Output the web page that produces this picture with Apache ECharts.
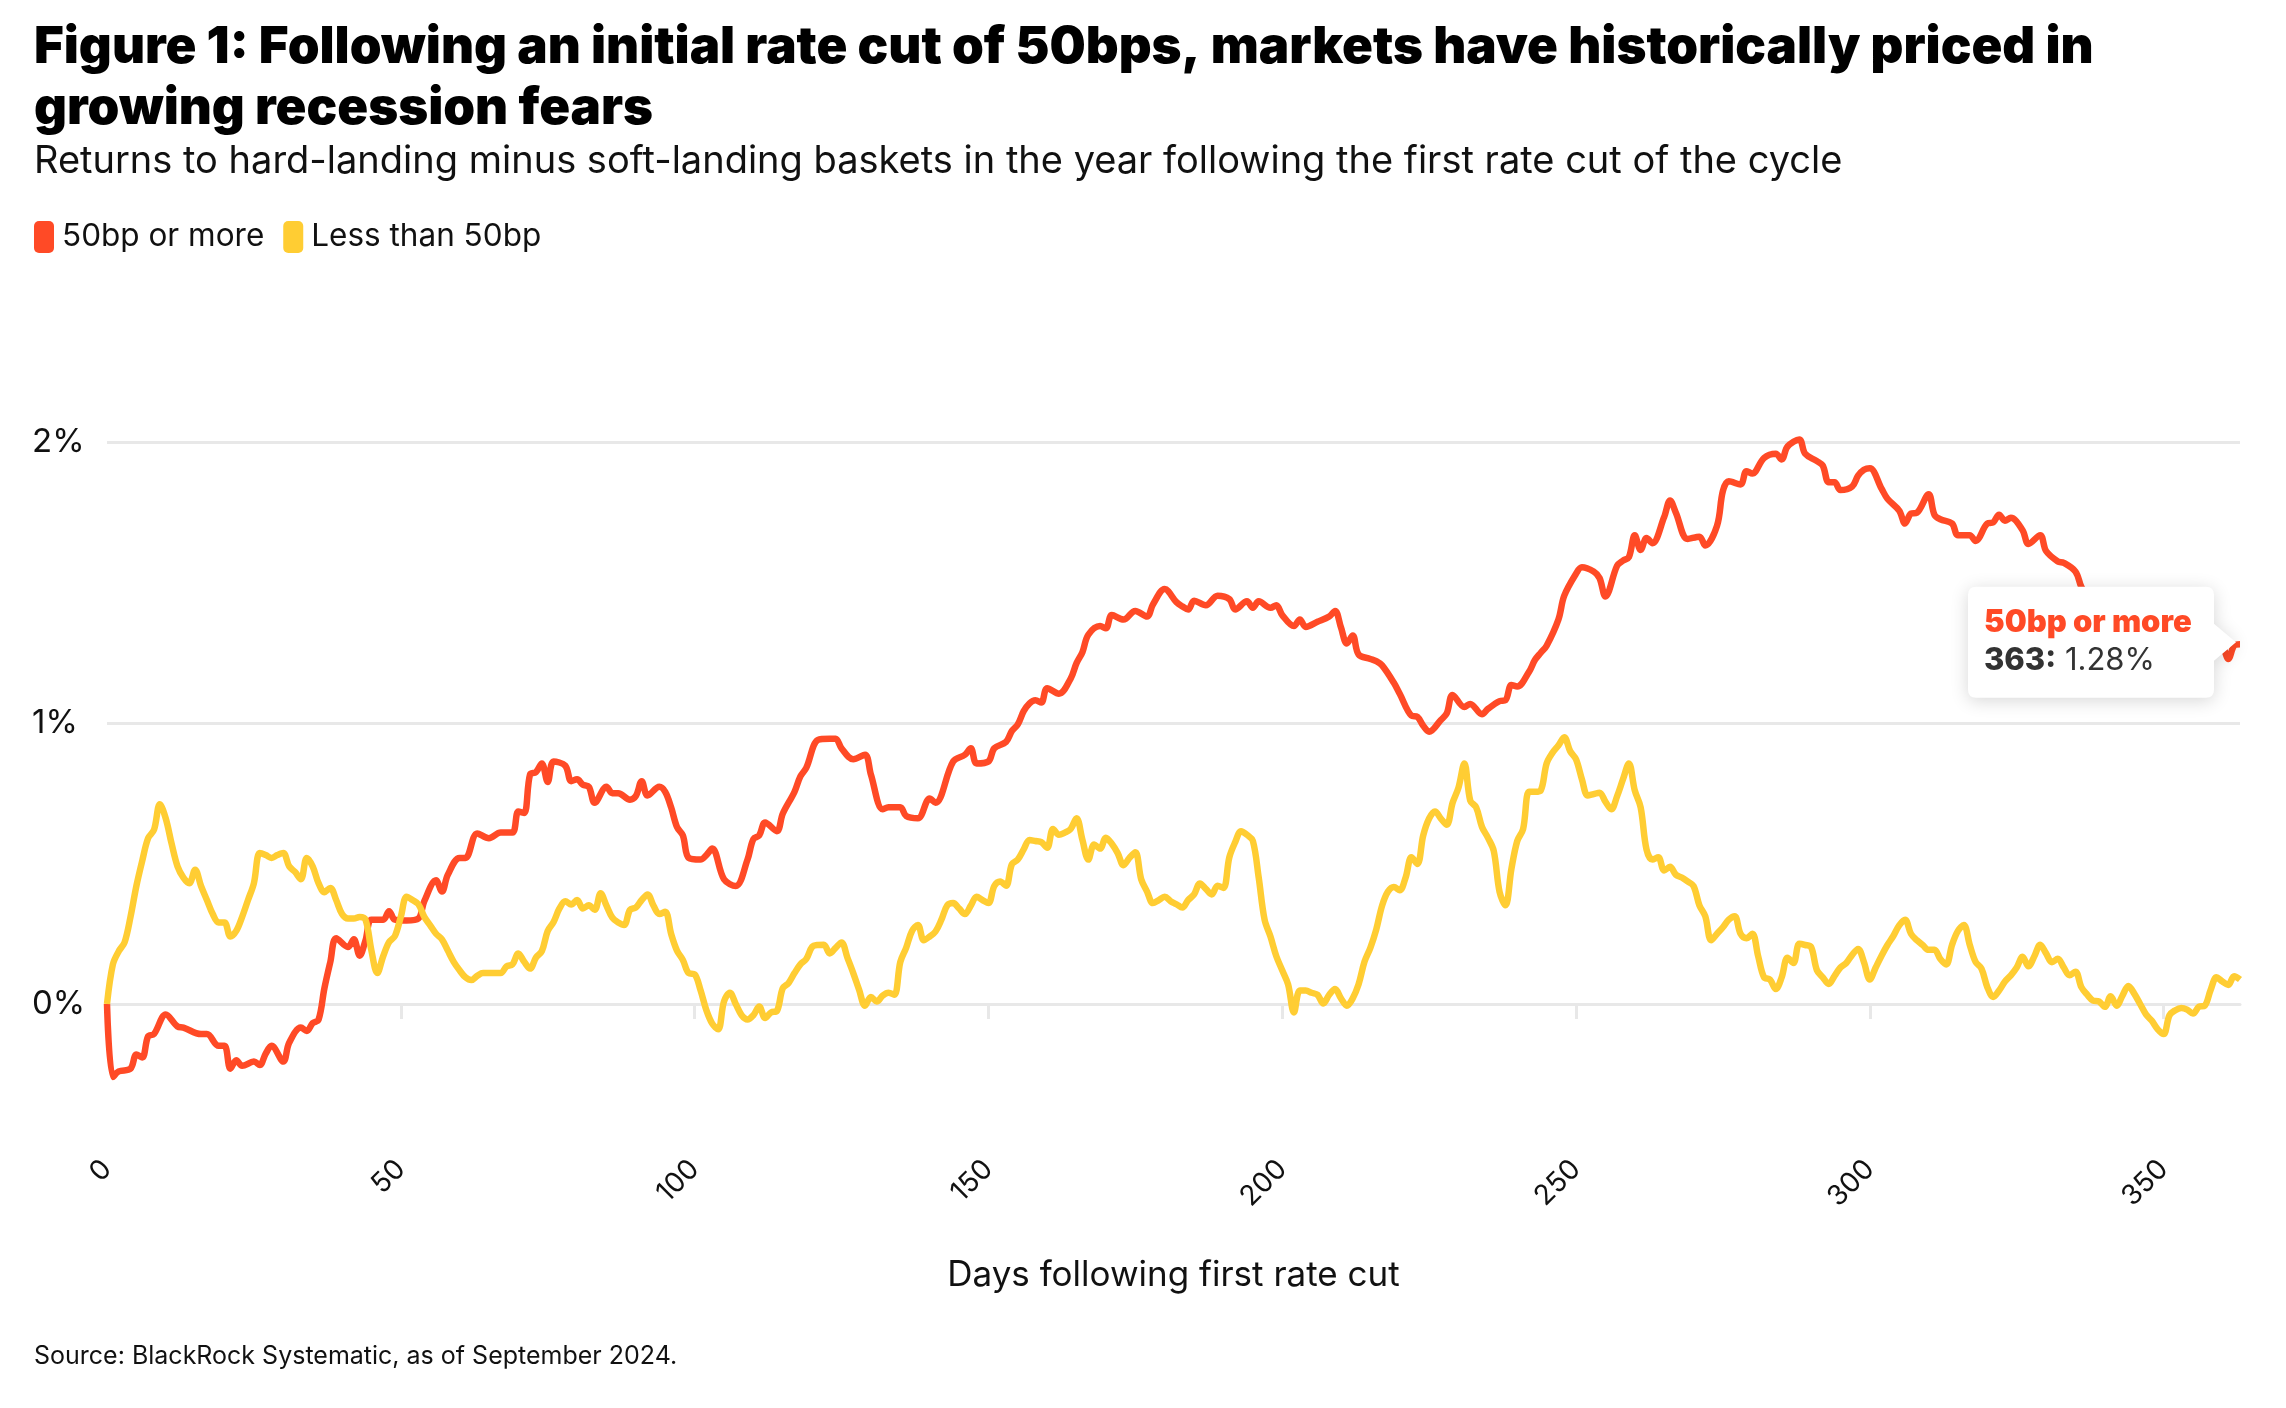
<!DOCTYPE html>
<html>
<head>
<meta charset="utf-8">
<script src="https://cdn.jsdelivr.net/npm/echarts@6/dist/echarts.min.js"></script>
<style>
html,body{margin:0;padding:0;background:#fff;}
#chart{width:2286px;height:1408px;}
</style>
</head>
<body>
<div id="chart"></div>
<script>
// ---- Data ----
const titleText = 'Figure 1: Following an initial rate cut of 50bps, markets have historically priced in\ngrowing recession fears';
const subtitleText = 'Returns to hard-landing minus soft-landing baskets in the year following the first rate cut of the cycle';
const sourceText = 'Source: BlackRock Systematic, as of September 2024.';
const xAxisName = 'Days following first rate cut';
const seriesNames = ['50bp or more', 'Less than 50bp'];
const xTicks = [0, 50, 100, 150, 200, 250, 300, 350];
const yTicks = [0, 1, 2];

// [day, % return] 50bp or more
const cut50OrMore = [
[0,0],[1,-0.26],[2,-0.24],[4,-0.23],[5,-0.18],[6,-0.19],[7,-0.115],[8,-0.107],[10,-0.037],[12,-0.08],[13,-0.084],
[16,-0.107],[17,-0.107],[19,-0.149],[20,-0.149],[21,-0.23],[22,-0.2],[23,-0.22],[25,-0.205],[26,-0.217],[27,-0.177],
[28,-0.149],[30,-0.205],[31,-0.138],[33,-0.084],[34,-0.096],[35,-0.068],[36,-0.056],[37,0.056],[38,0.149],[39,0.234],
[41,0.203],[42,0.23],[43,0.172],[44,0.227],[45,0.3],[47,0.3],[48,0.33],[49,0.3],[51,0.297],[53,0.304],[54,0.366],
[56,0.44],[57,0.4],[58,0.46],[60,0.52],[61,0.52],[63,0.607],[65,0.59],[67,0.61],[69,0.61],[70,0.685],[71,0.68],
[72,0.817],[73,0.825],[74,0.856],[75,0.79],[76,0.863],[78,0.848],[79,0.793],[80,0.8],[81,0.78],[82,0.773],[83,0.716],
[85,0.773],[86,0.75],[87,0.75],[89,0.727],[90,0.74],[91,0.793],[92,0.742],[94,0.773],[95,0.755],[96,0.7],[97,0.63],
[98,0.6],[99,0.52],[101,0.514],[102,0.53],[103,0.553],[105,0.444],[107,0.42],[109,0.514],[110,0.587],[111,0.6],
[112,0.646],[114,0.615],[115,0.677],[117,0.755],[118,0.81],[119,0.84],[121,0.94],[123,0.944],[124,0.944],[125,0.91],
[127,0.871],[129,0.887],[130,0.817],[132,0.693],[133,0.7],[135,0.7],[136,0.669],[138,0.661],[140,0.731],[141,0.716],
[144,0.863],[146,0.887],[147,0.91],[148,0.856],[150,0.863],[151,0.91],[153,0.933],[154,0.972],[155,0.995],[156,1.042],
[157,1.07],[158,1.081],[159,1.073],[160,1.124],[162,1.104],[164,1.158],[165,1.213],[166,1.252],[167,1.314],[169,1.345],
[170,1.337],[171,1.384],[173,1.368],[175,1.399],[177,1.379],[178,1.422],[180,1.477],[182,1.43],[183,1.415],[184,1.404],
[185,1.435],[187,1.419],[189,1.453],[191,1.441],[192,1.404],[194,1.433],[195,1.41],[196,1.433],[198,1.41],[199,1.419],
[200,1.384],[202,1.345],[203,1.368],[204,1.342],[206,1.36],[208,1.379],[209,1.399],[210,1.34],[211,1.283],[212,1.311],
[213,1.244],[215,1.228],[216,1.22],[217,1.205],[219,1.143],[220,1.104],[222,1.026],[223,1.022],[224,0.99],[225,0.969],
[227,1.011],[228,1.034],[229,1.1],[231,1.057],[232,1.068],[234,1.031],[235,1.05],[237,1.078],[238,1.081],[239,1.135],
[240,1.13],[242,1.182],[243,1.224],[244,1.25],[245,1.275],[247,1.368],[248,1.453],[250,1.531],[251,1.554],[253,1.539],
[254,1.516],[255,1.45],[257,1.56],[258,1.578],[259,1.59],[260,1.668],[261,1.616],[262,1.658],[263,1.64],[265,1.733],
[266,1.792],[267,1.748],[269,1.655],[271,1.663],[272,1.632],[274,1.702],[275,1.826],[276,1.86],[278,1.849],[279,1.896],
[280,1.888],[282,1.943],[284,1.958],[285,1.938],[286,1.984],[288,2.009],[289,1.958],[291,1.932],[292,1.916],[293,1.857],
[294,1.857],[295,1.829],[297,1.842],[298,1.88],[299,1.901],[300,1.907],[302,1.834],[303,1.798],[305,1.756],[306,1.71],
[307,1.745],[308,1.748],[310,1.814],[311,1.741],[312,1.725],[314,1.71],[315,1.668],[317,1.668],[318,1.648],[320,1.71],
[321,1.714],[322,1.741],[323,1.72],[324,1.73],[326,1.686],[327,1.637],[329,1.668],[330,1.612],[332,1.575],[333,1.57],
[335,1.539],[336,1.484],[337,1.45],[338,1.42],[340,1.4],[342,1.38],[344,1.35],[346,1.36],[348,1.33],[350,1.31],
[352,1.3],[354,1.28],[356,1.27],[358,1.25],[359,1.26],[360,1.267],[361,1.228],[362,1.275],[363,1.28]
];

// [day, % return] Less than 50bp
const cutLessThan50 = [
[0,0],[1,0.141],[2,0.188],[3,0.22],[4,0.31],[5,0.42],[6,0.51],[7,0.59],[8,0.62],[9,0.711],[10,0.66],[11,0.57],[12,0.49],
[13,0.45],[14,0.43],[15,0.478],[16,0.42],[17,0.37],[18,0.32],[19,0.29],[20,0.29],[21,0.24],[22,0.26],[23,0.31],[24,0.37],
[25,0.43],[26,0.537],[27,0.53],[28,0.52],[29,0.53],[30,0.537],[31,0.49],[32,0.47],[33,0.444],[34,0.52],[35,0.49],[36,0.43],
[37,0.398],[38,0.413],[39,0.37],[40,0.32],[41,0.304],[42,0.304],[43,0.31],[44,0.3],[45,0.19],[46,0.11],[47,0.17],[48,0.22],
[49,0.242],[50,0.31],[51,0.382],[52,0.37],[53,0.355],[54,0.31],[55,0.28],[56,0.25],[57,0.23],[58,0.19],[59,0.15],[60,0.12],
[61,0.095],[62,0.085],[63,0.1],[64,0.11],[65,0.11],[66,0.11],[67,0.11],[68,0.134],[69,0.141],[70,0.18],[71,0.15],[72,0.126],
[73,0.165],[74,0.188],[75,0.26],[76,0.292],[77,0.34],[78,0.366],[79,0.354],[80,0.37],[81,0.34],[82,0.351],[83,0.335],
[84,0.394],[85,0.35],[86,0.307],[87,0.29],[88,0.281],[89,0.335],[90,0.343],[91,0.37],[92,0.39],[93,0.35],[94,0.32],
[95,0.328],[96,0.25],[97,0.19],[98,0.157],[99,0.11],[100,0.106],[101,0.05],[102,-0.022],[103,-0.07],[104,-0.09],[105,0.009],
[106,0.04],[107,0],[108,-0.04],[109,-0.055],[110,-0.04],[111,-0.009],[112,-0.05],[113,-0.03],[114,-0.025],[115,0.056],
[116,0.075],[117,0.11],[118,0.141],[119,0.16],[120,0.203],[121,0.21],[122,0.211],[123,0.18],[124,0.2],[125,0.219],[126,0.165],
[127,0.11],[128,0.05],[129,-0.006],[130,0.025],[131,0.009],[132,0.03],[133,0.04],[134,0.033],[135,0.149],[136,0.2],[137,0.26],
[138,0.281],[139,0.227],[140,0.24],[141,0.258],[142,0.3],[143,0.351],[144,0.359],[145,0.34],[146,0.32],[147,0.35],[148,0.382],
[149,0.37],[150,0.359],[151,0.42],[152,0.436],[153,0.421],[154,0.498],[155,0.514],[156,0.55],[157,0.584],[158,0.58],[159,0.576],
[160,0.556],[161,0.623],[162,0.602],[163,0.61],[164,0.623],[165,0.661],[166,0.584],[167,0.514],[168,0.568],[169,0.553],
[170,0.592],[171,0.57],[172,0.537],[173,0.494],[174,0.52],[175,0.54],[176,0.444],[177,0.4],[178,0.359],[179,0.37],[180,0.382],
[181,0.366],[182,0.355],[183,0.343],[184,0.37],[185,0.39],[186,0.429],[187,0.41],[188,0.39],[189,0.421],[190,0.413],
[191,0.522],[192,0.576],[193,0.615],[194,0.602],[195,0.581],[196,0.45],[197,0.3],[198,0.24],[199,0.17],[200,0.12],[201,0.07],
[202,-0.03],[203,0.048],[204,0.048],[205,0.04],[206,0.033],[207,0.002],[208,0.033],[209,0.053],[210,0.02],[211,-0.006],
[212,0.02],[213,0.07],[214,0.15],[215,0.2],[216,0.265],[217,0.35],[218,0.4],[219,0.416],[220,0.405],[221,0.45],[222,0.522],
[223,0.498],[224,0.6],[225,0.66],[226,0.685],[227,0.66],[228,0.638],[229,0.716],[230,0.77],[231,0.856],[232,0.724],[233,0.7],
[234,0.63],[235,0.592],[236,0.545],[237,0.398],[238,0.351],[239,0.48],[240,0.58],[241,0.623],[242,0.755],[243,0.755],
[244,0.76],[245,0.856],[246,0.894],[247,0.92],[248,0.949],[249,0.9],[250,0.871],[251,0.8],[252,0.742],[253,0.747],[254,0.752],
[255,0.72],[256,0.693],[257,0.74],[258,0.8],[259,0.856],[260,0.76],[261,0.7],[262,0.55],[263,0.514],[264,0.522],[265,0.475],
[266,0.488],[267,0.46],[268,0.45],[269,0.436],[270,0.42],[271,0.351],[272,0.312],[273,0.227],[274,0.25],[275,0.273],[276,0.3],
[277,0.312],[278,0.25],[279,0.234],[280,0.25],[281,0.17],[282,0.095],[283,0.087],[284,0.053],[285,0.095],[286,0.165],
[287,0.146],[288,0.214],[289,0.21],[290,0.203],[291,0.12],[292,0.095],[293,0.071],[294,0.1],[295,0.13],[296,0.146],[297,0.175],
[298,0.196],[299,0.149],[300,0.087],[301,0.13],[302,0.172],[303,0.21],[304,0.242],[305,0.28],[306,0.3],[307,0.25],[308,0.227],
[309,0.21],[310,0.193],[311,0.193],[312,0.16],[313,0.141],[314,0.211],[315,0.26],[316,0.281],[317,0.211],[318,0.15],
[319,0.126],[320,0.06],[321,0.025],[322,0.048],[323,0.08],[324,0.102],[325,0.13],[326,0.168],[327,0.134],[328,0.17],
[329,0.211],[330,0.18],[331,0.149],[332,0.161],[333,0.13],[334,0.102],[335,0.115],[336,0.06],[337,0.033],[338,0.012],
[339,0.009],[340,-0.01],[341,0.028],[342,-0.006],[343,0.03],[344,0.064],[345,0.037],[346,0],[347,-0.037],[348,-0.06],
[349,-0.09],[350,-0.107],[351,-0.04],[352,-0.022],[353,-0.014],[354,-0.02],[355,-0.034],[356,-0.01],[357,-0.006],[358,0.05],
[359,0.095],[360,0.08],[361,0.068],[362,0.099],[363,0.087]
];

// ---- Styling ----
const RED = '#FF4A26';
const YELLOW = '#FFCD33';
const GRID = '#e8e8e8';
const FONT = 'Inter, "Noto Sans", sans-serif';

const last = cut50OrMore[cut50OrMore.length - 1];

const chart = echarts.init(document.getElementById('chart'), null, {renderer: 'canvas'});
chart.setOption({
  animation: false,
  backgroundColor: '#fff',
  textStyle: {fontFamily: FONT},
  title: [
    {text: titleText, left: 29, top: 12,
     textStyle: {fontFamily: FONT, fontSize: 51, fontWeight: 900, color: '#000', lineHeight: 61}},
    {text: subtitleText, left: 29, top: 138,
     textStyle: {fontFamily: FONT, fontSize: 38, fontWeight: 400, color: '#111'}},
    {text: sourceText, left: 29, top: 1339,
     textStyle: {fontFamily: FONT, fontSize: 25, fontWeight: 400, color: '#111'}}
  ],
  legend: {
    left: 29, top: 216, itemWidth: 20, itemHeight: 32, itemGap: 19, icon: 'roundRect',
    textStyle: {fontFamily: FONT, fontSize: 31.5, color: '#111', padding: [0,0,0,3]},
    data: seriesNames
  },
  grid: {left: 107, right: 46, top: 301.5, bottom: 263.5, containLabel: false, outerBoundsMode: 'none'},
  xAxis: {
    type: 'value', min: 0, max: 363,
    name: xAxisName, nameLocation: 'middle', nameGap: 113,
    nameTextStyle: {fontFamily: FONT, fontSize: 35, color: '#111'},
    axisLine: {show: true, lineStyle: {color: GRID, width: 3}},
    axisTick: {show: true, length: 15, lineStyle: {color: GRID, width: 3}, customValues: xTicks},
    axisLabel: {customValues: xTicks, rotate: 45, margin: 20, fontFamily: FONT, fontSize: 28, color: '#111'},
    splitLine: {show: false}
  },
  yAxis: {
    type: 'value', min: -0.5, max: 2.5,
    axisLine: {show: false},
    axisTick: {show: false, customValues: yTicks},
    axisLabel: {customValues: yTicks, align: 'left', margin: 75, fontFamily: FONT, fontSize: 33, color: '#111',
      formatter: v => v + '%'},
    splitLine: {show: true, lineStyle: {color: GRID, width: 3}}
  },
  series: [
    {name: seriesNames[0], type: 'line', data: cut50OrMore, smooth: 0.35, showSymbol: false, z: 2,
     color: RED, lineStyle: {color: RED, width: 6.5}, emphasis: {disabled: true},
     markPoint: {
       silent: true,
       symbol: 'path://M8,0 L238,0 Q246,0 246,8 L246,37 L268,55.5 L246,74 L246,103 Q246,111 238,111 L8,111 Q0,111 0,103 L0,8 Q0,0 8,0 Z',
       symbolSize: [268, 111], symbolOffset: [-138, -2],
       itemStyle: {color: '#fff', shadowBlur: 18, shadowColor: 'rgba(0,0,0,0.16)', shadowOffsetY: 3},
       label: {show: true, position: [16, 17],
         formatter: '{n|' + seriesNames[0] + '}\n{d|' + last[0] + ':}{v| ' + last[1].toFixed(2) + '%}',
         rich: {
           n: {fontFamily: FONT, fontSize: 31, fontWeight: 900, color: RED, lineHeight: 38},
           d: {fontFamily: FONT, fontSize: 31, fontWeight: 800, color: '#333', lineHeight: 38},
           v: {fontFamily: FONT, fontSize: 31, fontWeight: 400, color: '#333', lineHeight: 38}
         }},
       data: [{coord: last}]
     }},
    {name: seriesNames[1], type: 'line', data: cutLessThan50, smooth: 0.35, showSymbol: false, z: 3,
     color: YELLOW, lineStyle: {color: YELLOW, width: 6.5}, emphasis: {disabled: true}}
  ]
});
</script>
</body>
</html>
